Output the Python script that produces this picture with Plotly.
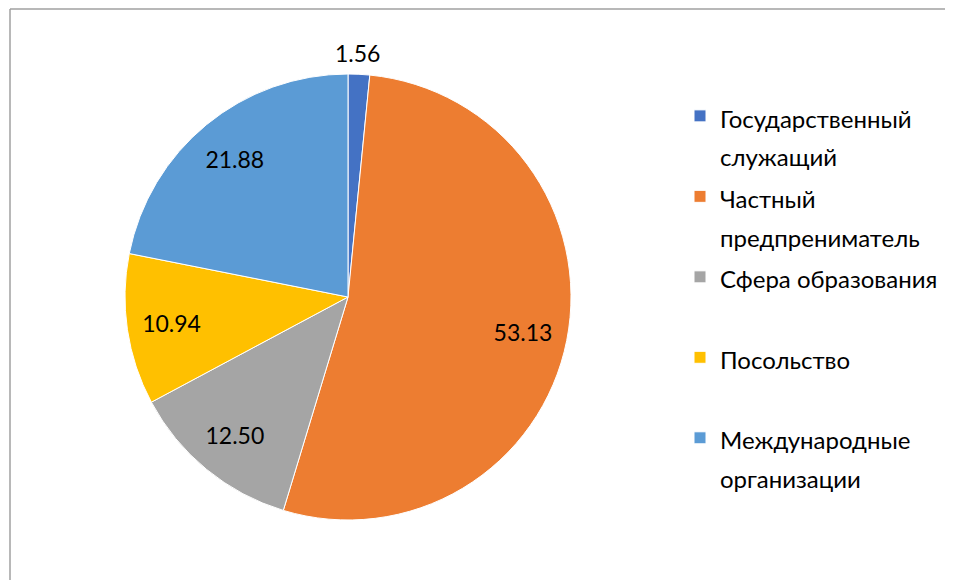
import plotly.graph_objects as go

# ---- data ----
categories = ["Государственный служащий", "Частный предпрениматель",
              "Сфера образования", "Посольство", "Международные организации"]
legend_lines = [["Государственный", "служащий"], ["Частный", "предпрениматель"],
                ["Сфера образования", ""], ["Посольство", ""],
                ["Международные", "организации"]]
values = [1.56, 53.13, 12.50, 10.94, 21.88]
colors = ["#4472C4", "#ED7D31", "#A5A5A5", "#FFC000", "#5B9BD5"]

# page body has an 8px margin, so work in figure coordinates (screen - 8)
W, H = 945, 572
OFF = 8

def span(t):
    return '<span style="font-size:24px">' + (t if t else "&nbsp;") + "</span>"

labels = ["<br>".join(span(t) for t in lines) for lines in legend_lines]

cx0, cx1 = 125 - OFF, 571 - OFF
top, bot = 74 - OFF, 520 - OFF
dom = dict(x=[cx0 / W, cx1 / W], y=[1 - bot / H, 1 - top / H])

clear = ["rgba(0,0,0,0)"] * len(values)
textfont = dict(family="Lato", size=23, color="black")

fig = go.Figure()
# main pie
fig.add_trace(go.Pie(
    labels=labels, values=values, sort=False, direction="clockwise", rotation=0,
    marker=dict(colors=colors, line=dict(color="white", width=1)),
    textinfo="none", domain=dom, hovertext=categories, hoverinfo="text+value",
))
# ring overlay carrying inside labels (places them further out like the reference)
fig.add_trace(go.Pie(
    labels=labels, values=values, sort=False, direction="clockwise", rotation=0,
    hole=0.6, marker=dict(colors=clear, line=dict(width=0)),
    texttemplate="%{value:.2f}",
    textposition=["none", "inside", "inside", "inside", "inside"],
    insidetextorientation="horizontal", textfont=textfont,
    domain=dom, showlegend=False, hoverinfo="skip",
))
# overlay carrying the outside label of the small slice
sx, sy = -31, 7
dom2 = dict(x=[(cx0 + sx) / W, (cx1 + sx) / W], y=[1 - bot / H + sy / H, 1 - top / H + sy / H])
fig.add_trace(go.Pie(
    labels=labels, values=values, sort=False, direction="clockwise", rotation=0,
    marker=dict(colors=clear, line=dict(width=0)),
    texttemplate="%{value:.2f}",
    textposition=["outside", "none", "none", "none", "none"],
    textfont=textfont, domain=dom2, showlegend=False, hoverinfo="skip",
))

fig.update_layout(
    width=W, height=H, margin=dict(l=0, r=0, t=0, b=0),
    paper_bgcolor="white", plot_bgcolor="white",
    font=dict(family="Lato", color="black"),
    legend=dict(x=672 / W, xanchor="left", y=1 - 82 / H, yanchor="top",
                valign="top", font=dict(family="Lato", size=29.8, color="black"),
                bgcolor="rgba(0,0,0,0)"),
    shapes=[
        dict(type="line", xref="paper", yref="paper", x0=2 / W, x1=1.02, y0=1 - 1 / H, y1=1 - 1 / H,
             line=dict(color="#A0A0A0", width=1.5)),
        dict(type="line", xref="paper", yref="paper", x0=2 / W, x1=2 / W, y0=1 - 1 / H, y1=-0.02,
             line=dict(color="#A0A0A0", width=1.5)),
    ],
)
fig.write_html("out.html")
